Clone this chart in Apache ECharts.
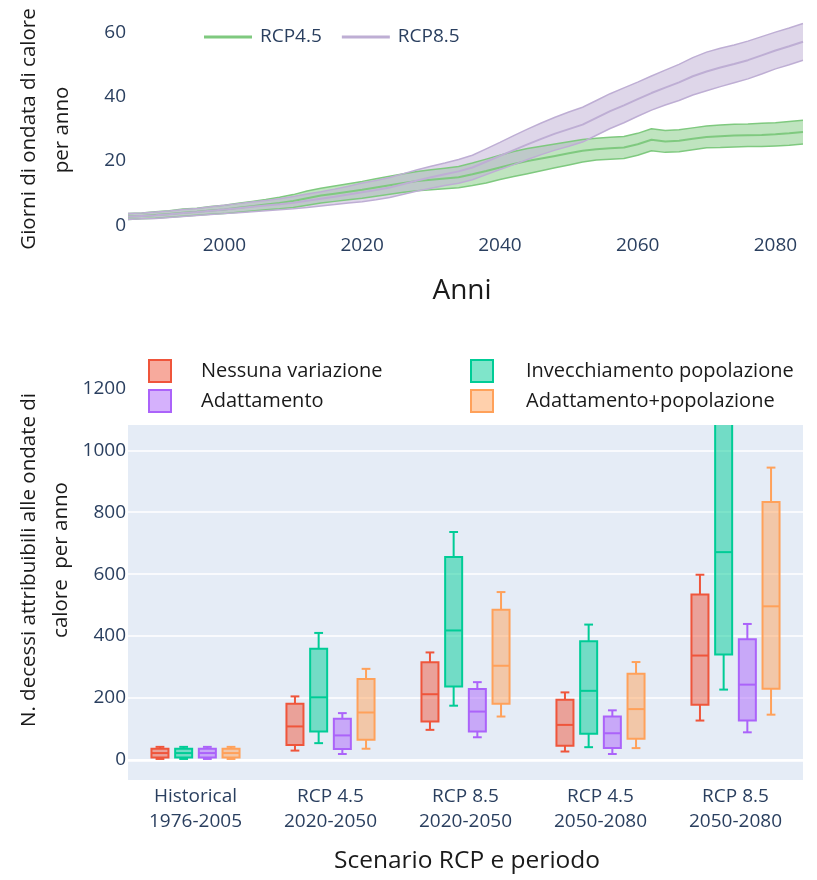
<!DOCTYPE html>
<html><head><meta charset="utf-8">
<script src="https://cdn.jsdelivr.net/npm/echarts@6/dist/echarts.min.js"></script>
<style>html,body{margin:0;padding:0;background:#fff}#c{width:817px;height:880px}</style>
</head><body><div id="c"></div>
<script>
// ---------- Top chart data ----------
const years = [1986,1988,1990,1992,1994,1996,1998,2000,2002,2004,2006,2008,2010,2012,2014,2016,2018,2020,2022,2024,2026,2028,2030,2032,2034,2036,2038,2040,2042,2044,2046,2048,2050,2052,2054,2056,2058,2060,2062,2064,2066,2068,2070,2072,2074,2076,2078,2080,2082,2084];
const rcp45Med = [2.8,3.0,3.3,3.6,4.0,4.3,4.7,5.0,5.5,6.0,6.5,7.0,7.6,8.5,9.3,9.9,10.5,11.1,11.8,12.5,13.2,13.8,14.2,14.6,15.0,15.9,16.9,18.0,19.1,20.0,20.8,21.6,22.4,23.2,23.7,24.0,24.2,25.2,26.6,26.1,26.3,26.9,27.5,27.7,27.9,28.0,28.1,28.3,28.6,29.0];
const rcp45Lo  = [1.9,2.1,2.3,2.6,2.9,3.2,3.5,3.7,4.1,4.5,4.9,5.2,5.6,6.3,7.0,7.5,8.0,8.5,9.1,9.7,10.3,10.8,11.1,11.4,11.7,12.4,13.2,14.3,15.2,16.1,17.0,17.9,18.8,19.7,20.3,20.6,20.8,21.8,23.2,22.7,22.9,23.5,24.1,24.2,24.4,24.5,24.5,24.7,24.9,25.3];
const rcp45Hi  = [3.7,3.9,4.3,4.6,5.1,5.4,5.9,6.3,6.9,7.5,8.1,8.8,9.6,10.7,11.6,12.3,13.0,13.7,14.5,15.3,16.1,16.8,17.3,17.8,18.3,19.4,20.6,21.8,23.0,23.9,24.6,25.3,26.0,26.7,27.1,27.4,27.6,28.6,30.0,29.5,29.7,30.3,30.9,31.2,31.4,31.5,31.7,31.9,32.3,32.7];
const rcp85Med = [2.8,3.0,3.2,3.5,3.9,4.2,4.6,5.0,5.4,5.8,6.2,6.6,7.1,7.7,8.3,8.9,9.6,10.3,11.0,11.8,12.9,14.0,15.0,15.9,16.8,18.0,19.8,21.6,23.4,25.2,26.9,28.5,29.9,31.3,33.4,35.5,37.3,39.2,41.1,42.8,44.4,46.3,47.8,49.0,50.1,51.3,52.8,54.3,55.6,57.0];
const rcp85Lo  = [1.9,2.1,2.2,2.5,2.8,3.1,3.4,3.7,4.0,4.3,4.6,4.9,5.2,5.6,6.1,6.5,7.0,7.4,8.0,8.7,9.7,10.7,11.6,12.4,13.1,14.2,15.8,17.4,18.9,20.5,22.0,23.4,24.6,25.9,28.0,30.1,31.9,33.9,35.8,37.4,38.8,40.5,41.8,43.1,44.3,45.5,47.0,48.6,49.9,51.3];
const rcp85Hi  = [3.7,3.9,4.2,4.5,5.0,5.3,5.8,6.3,6.8,7.3,7.8,8.3,9.0,9.8,10.5,11.3,12.2,13.2,14.0,14.9,16.1,17.3,18.4,19.4,20.5,21.8,23.8,25.8,27.9,29.9,31.8,33.6,35.2,36.7,38.8,40.9,42.7,44.5,46.4,48.2,50.0,52.1,53.8,55.0,56.0,57.2,58.6,60.0,61.3,62.7];

// ---------- Bottom chart data: [min, q1, median, q3, max] ----------
const categories = ["Historical\n1976-2005","RCP 4.5\n2020-2050","RCP 8.5\n2020-2050","RCP 4.5\n2050-2080","RCP 8.5\n2050-2080"];
const nessunaVariazione = [[3,8,22,36,42],[30,48,108,181,205],[97,124,212,315,347],[27,46,113,194,218],[127,178,337,534,598]];
const invecchiamento    = [[3,8,22,36,42],[54,92,202,359,410],[175,237,418,655,736],[41,84,223,383,437],[227,340,671,1200,1320]];
const adattamento       = [[3,8,22,36,42],[19,35,79,133,151],[73,92,156,229,251],[19,38,86,140,160],[89,127,243,390,439]];
const adattPopolazione  = [[3,8,22,36,42],[36,65,153,261,294],[140,181,304,485,542],[38,68,164,278,316],[146,230,496,833,944]];

const boxSeriesDefs = [
  {name:'Nessuna variazione', data:nessunaVariazione, color:'#EF553B', fill:'rgba(239,85,59,0.5)'},
  {name:'Invecchiamento popolazione', data:invecchiamento, color:'#00CC96', fill:'rgba(0,204,150,0.5)'},
  {name:'Adattamento', data:adattamento, color:'#AB63FA', fill:'rgba(171,99,250,0.5)'},
  {name:'Adattamento+popolazione', data:adattPopolazione, color:'#FFA15A', fill:'rgba(255,161,90,0.5)'}
];

const tickColor = '#2a3f5f';
const titleColor = '#1a1a1a';
const FONT = '"Open Sans", "Noto Sans", sans-serif';
const GREEN = '#7fc97f', PURPLE = '#beaed4';

function bandSeries(name, lo, hi, med, color, fill) {
  const stack = 'st_' + name;
  const common = {type:'line', xAxisIndex:0, yAxisIndex:0, symbol:'none', showSymbol:false, silent:true, animation:false};
  return [
    Object.assign({}, common, {name, stack, data: lo, lineStyle:{color, width:1.5}, itemStyle:{color}}),
    Object.assign({}, common, {name, stack, data: hi.map((h,i)=>+(h - lo[i]).toFixed(2)), lineStyle:{color, width:1.5}, itemStyle:{color}, areaStyle:{color:fill, opacity:1}}),
    Object.assign({}, common, {name, data: med, lineStyle:{color, width:2}, itemStyle:{color}})
  ];
}

function boxRender(si, color, fill) {
  return function (params, api) {
    const c = api.value(0);
    const v = [api.value(1), api.value(2), api.value(3), api.value(4), api.value(5)];
    const band = api.size([1, 0])[0];
    const x = api.coord([c, 0])[0] + (si - 1.5) * band * 0.1755;
    const w = band * 0.126;
    const cap = band * 0.065;
    const y = v.map(val => api.coord([c, val])[1]);
    const st = {stroke: color, lineWidth: 2, fill: null};
    return {type:'group', children:[
      {type:'line', shape:{x1:x, y1:y[4], x2:x, y2:y[3]}, style: st},
      {type:'line', shape:{x1:x, y1:y[1], x2:x, y2:y[0]}, style: st},
      {type:'line', shape:{x1:x-cap/2, y1:y[4], x2:x+cap/2, y2:y[4]}, style: st},
      {type:'line', shape:{x1:x-cap/2, y1:y[0], x2:x+cap/2, y2:y[0]}, style: st},
      {type:'rect', shape:{x:x-w/2, y:y[3], width:w, height:y[1]-y[3]}, style:{fill: fill, stroke: color, lineWidth: 2}},
      {type:'line', shape:{x1:x-w/2, y1:y[2], x2:x+w/2, y2:y[2]}, style: st}
    ]};
  };
}

const boxSeries = boxSeriesDefs.map((d, si) => {
  const s = {
    name: d.name, type:'custom', xAxisIndex:1, yAxisIndex:1, clip:true, z:2, animation:false,
    itemStyle:{color:d.color},
    renderItem: boxRender(si, d.color, d.fill),
    encode:{x:0, y:[1,2,3,4,5]},
    data: d.data.map((arr, i) => [i].concat(arr))
  };
  if (si === 0) {
    s.markLine = {silent:true, z:1, symbol:['none','none'], label:{show:false}, animation:false,
      lineStyle:{color:'#ffffff', width:2.5, type:'solid'}, data:[{yAxis:0}]};
  }
  return s;
});

function legendItem(d) {
  return {name:d.name, icon:'rect', itemStyle:{color:d.fill, borderColor:d.color, borderWidth:2}};
}

const chart = echarts.init(document.getElementById('c'), null, {renderer:'canvas'});
chart.setOption({
  backgroundColor:'#ffffff',
  animation:false,
  textStyle:{fontFamily:FONT},
  grid:[
    {left:128, right:14, top:16, height:216, containLabel:false},
    {left:128, right:14, top:345, height:435, show:true, backgroundColor:'#e5ecf6', borderWidth:0}
  ],
  xAxis:[
    {gridIndex:0, type:'category', data:years.map(String), boundaryGap:false,
      axisLine:{show:false}, axisTick:{show:false}, splitLine:{show:false},
      axisLabel:{interval:(i, v) => (+v) % 20 === 0, color:tickColor, fontSize:19, margin:4, fontFamily:FONT}},
    {gridIndex:1, type:'category', data:categories, boundaryGap:true,
      axisLine:{show:false}, axisTick:{show:false}, splitLine:{show:false},
      axisLabel:{color:tickColor, fontSize:19, lineHeight:25, margin:4, fontFamily:FONT}}
  ],
  yAxis:[
    {gridIndex:0, type:'value', min:-2, max:65, splitNumber:3,
      axisLine:{show:false}, axisTick:{show:false}, splitLine:{show:false},
      axisLabel:{color:tickColor, fontSize:19, margin:2, showMinLabel:false, showMaxLabel:false, fontFamily:FONT}},
    {gridIndex:1, type:'value', min:-65, max:1340, splitNumber:7,
      axisLine:{show:false}, axisTick:{show:false},
      splitLine:{show:true, showMinLine:false, showMaxLine:false, lineStyle:{color:'#ffffff', width:1.5}},
      axisLabel:{color:tickColor, fontSize:19, margin:2, showMinLabel:false, showMaxLabel:false, fontFamily:FONT,
        formatter:(v) => String(Math.round(v))}}
  ],
  legend:[
    {data:[{name:'RCP4.5', icon:'rect', itemStyle:{color:GREEN}}, {name:'RCP8.5', icon:'rect', itemStyle:{color:PURPLE}}],
      left:204, top:27, padding:0, itemWidth:48, itemHeight:3, itemGap:20,
      textStyle:{color:tickColor, fontSize:19, lineHeight:20, fontFamily:FONT, padding:[0,0,0,3]}},
    {data:[legendItem(boxSeriesDefs[0]), legendItem(boxSeriesDefs[2])], orient:'vertical', left:148, top:359, padding:0,
      itemWidth:22, itemHeight:22, itemGap:6, z:20,
      textStyle:{color:titleColor, fontSize:20, lineHeight:22, fontFamily:FONT, padding:[0,0,0,25]}},
    {data:[legendItem(boxSeriesDefs[1]), legendItem(boxSeriesDefs[3])], orient:'vertical', left:470, top:359, padding:0,
      itemWidth:22, itemHeight:22, itemGap:6, z:20,
      textStyle:{color:titleColor, fontSize:20, lineHeight:22, fontFamily:FONT, padding:[0,0,0,28]}}
  ],
  graphic:[
    {type:'rect', z:10, silent:true, shape:{x:128, y:345, width:675, height:80}, style:{fill:'#ffffff'}},
    {type:'text', x:29, y:129, rotation:Math.PI/2, silent:true,
      style:{text:'Giorni di ondata di calore', font:'20.5px ' + FONT, fill:titleColor, align:'center', verticalAlign:'middle'}},
    {type:'text', x:62, y:130, rotation:Math.PI/2, silent:true,
      style:{text:'per anno', font:'20.5px ' + FONT, fill:titleColor, align:'center', verticalAlign:'middle'}},
    {type:'text', x:462, y:291, silent:true,
      style:{text:'Anni', font:'28px ' + FONT, fill:titleColor, align:'center', verticalAlign:'middle'}},
    {type:'text', x:29, y:560, rotation:Math.PI/2, silent:true,
      style:{text:'N. decessi attribuibili alle ondate di', font:'20.5px ' + FONT, fill:titleColor, align:'center', verticalAlign:'middle'}},
    {type:'text', x:61, y:560, rotation:Math.PI/2, silent:true,
      style:{text:'calore  per anno', font:'20.5px ' + FONT, fill:titleColor, align:'center', verticalAlign:'middle'}},
    {type:'text', x:467, y:861, silent:true,
      style:{text:'Scenario RCP e periodo', font:'24.5px ' + FONT, fill:titleColor, align:'center', verticalAlign:'middle'}}
  ],
  series: [].concat(
    bandSeries('RCP4.5', rcp45Lo, rcp45Hi, rcp45Med, GREEN, 'rgba(127,201,127,0.5)'),
    bandSeries('RCP8.5', rcp85Lo, rcp85Hi, rcp85Med, PURPLE, 'rgba(190,174,212,0.5)'),
    boxSeries
  )
});
</script>
</body></html>
